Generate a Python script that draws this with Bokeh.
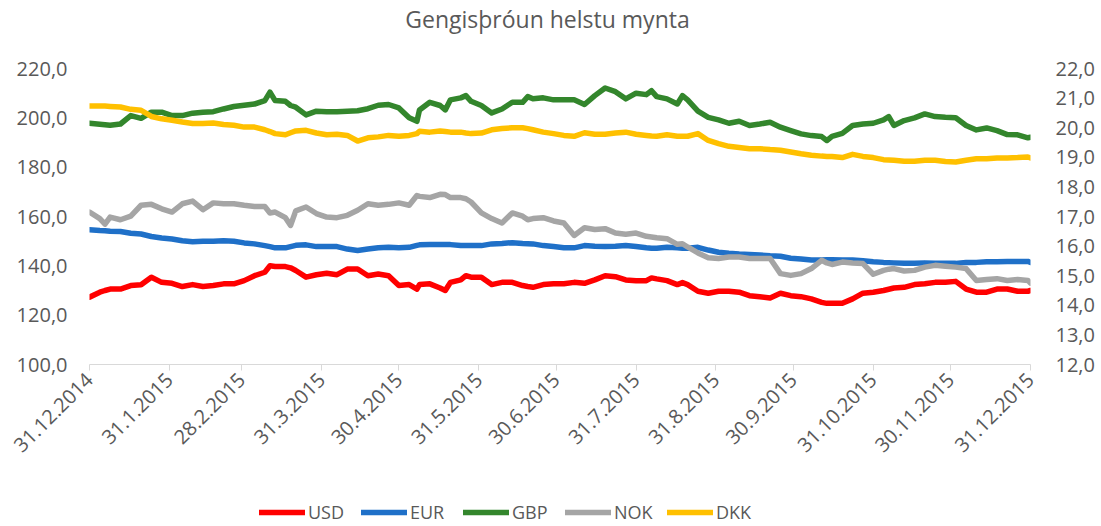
import pandas as pd
from bokeh.plotting import figure
from bokeh.layouts import column
from bokeh.models import (Range1d, LinearAxis, FixedTicker, Legend, LegendItem, Label)
from bokeh.embed import file_html
from bokeh.resources import INLINE

# ---------------- data ----------------
start_date = "2014-12-31"
day_offsets = [0, 4, 6, 8, 12, 16, 20, 24, 28, 32, 36, 40, 44, 48, 52, 56, 60, 64, 68, 70, 72, 76, 78, 80, 84, 88,
               92, 96, 100, 104, 108, 112, 116, 120, 124, 127, 128, 132, 136, 138, 140, 144, 146, 148, 152, 156, 160, 164, 168, 170, 172, 176, 180,
               184, 188, 192, 196, 200, 204, 208, 212, 216, 218, 220, 224, 228, 230, 232, 236, 240, 244, 248, 252, 256, 260, 264, 268, 272,
               276, 280, 284, 286, 288, 292, 296, 300, 304, 308, 310, 312, 316, 320, 324, 328, 332, 336, 340, 344, 348, 352, 356, 360, 364, 365]

usd = [127.3, 129.3, 130.0, 130.6, 130.6, 132.0, 132.3, 135.4, 133.3, 132.9, 131.6, 132.4, 131.6, 132.0, 132.7, 132.7, 134.0, 136.0, 137.4, 140.0, 139.7, 139.7, 139.2, 138.1, 135.4, 136.4,
       137.0, 136.4, 138.7, 138.7, 136.0, 136.7, 136.0, 132.0, 132.4, 130.6, 132.4, 132.7, 131.0, 130.0, 133.3, 134.3, 136.0, 135.4, 135.4, 132.4, 133.3, 133.3, 132.0, 131.6, 131.3, 132.4, 132.7,
       132.7, 133.3, 132.9, 134.3, 136.0, 135.6, 134.3, 134.0, 134.0, 135.1, 134.7, 134.0, 132.4, 133.2, 132.4, 129.7, 128.9, 129.7, 129.7, 129.3, 127.9, 127.5, 127.0, 128.9, 127.9,
       127.5, 126.6, 125.2, 124.8, 124.8, 124.8, 126.6, 128.9, 129.3, 130.0, 130.5, 131.0, 131.3, 132.4, 132.7, 133.3, 133.3, 133.7, 130.6, 129.3, 129.3, 130.6, 130.6, 129.7, 129.7, 130.0]

eur = [154.6, 154.3, 154.2, 154.0, 153.9, 153.2, 152.9, 151.9, 151.3, 150.9, 150.2, 149.8, 150.0, 150.0, 150.2, 150.0, 149.3, 148.9, 148.2, 147.8, 147.3, 147.3, 147.8, 148.3, 148.5, 147.8,
       147.8, 147.8, 146.8, 146.2, 146.8, 147.3, 147.5, 147.3, 147.5, 148.3, 148.5, 148.6, 148.6, 148.6, 148.6, 148.2, 148.2, 148.2, 148.2, 148.9, 149.1, 149.4, 149.1, 149.0, 148.9, 148.2, 147.8,
       147.3, 147.3, 148.2, 147.9, 147.8, 147.9, 148.2, 147.8, 147.3, 147.1, 147.1, 147.5, 147.3, 147.1, 147.1, 147.5, 146.4, 145.5, 145.1, 144.8, 144.6, 144.4, 144.1, 143.9, 143.1,
       142.8, 142.4, 142.4, 142.5, 142.5, 142.4, 142.4, 142.1, 141.7, 141.4, 141.3, 141.2, 141.0, 141.0, 141.2, 141.0, 141.0, 141.0, 141.4, 141.4, 141.7, 141.7, 141.8, 141.8, 141.8, 141.4]

gbp = [197.8, 197.4, 197.2, 197.0, 197.5, 200.9, 199.8, 202.3, 202.3, 200.9, 200.9, 201.9, 202.3, 202.5, 203.6, 204.6, 205.1, 205.6, 207.0, 210.4, 207.0, 206.7, 205.0, 204.3, 201.2, 202.7,
       202.5, 202.5, 202.7, 202.9, 203.7, 205.1, 205.4, 204.0, 200.0, 198.6, 203.2, 206.3, 205.0, 203.2, 207.3, 208.1, 209.0, 206.7, 205.0, 202.0, 203.6, 206.3, 206.3, 208.6, 207.7, 208.1, 207.3,
       207.3, 207.3, 205.4, 209.0, 212.1, 210.6, 207.7, 210.0, 209.4, 211.0, 208.6, 207.7, 205.6, 209.0, 207.3, 202.7, 200.2, 199.2, 197.8, 198.6, 196.9, 197.5, 198.2, 196.2, 194.8,
       193.5, 192.8, 192.4, 190.8, 192.5, 193.7, 196.9, 197.5, 197.8, 199.2, 200.5, 196.9, 198.9, 200.0, 201.6, 200.5, 200.2, 200.0, 196.9, 195.1, 195.9, 194.8, 193.2, 193.1, 191.9, 192.1]

nok = [17.15, 16.93, 16.74, 16.98, 16.89, 17.01, 17.38, 17.41, 17.26, 17.15, 17.43, 17.52, 17.23, 17.46, 17.43, 17.43, 17.38, 17.34, 17.34, 17.12, 17.15, 16.96, 16.70, 17.19, 17.32, 17.10,
       16.98, 16.96, 17.04, 17.21, 17.43, 17.38, 17.41, 17.46, 17.38, 17.71, 17.68, 17.64, 17.75, 17.74, 17.64, 17.64, 17.60, 17.49, 17.12, 16.93, 16.78, 17.12, 17.01, 16.89, 16.93, 16.96, 16.85,
       16.78, 16.36, 16.62, 16.56, 16.59, 16.44, 16.40, 16.44, 16.33, 16.31, 16.28, 16.25, 16.06, 16.08, 15.97, 15.77, 15.61, 15.58, 15.63, 15.63, 15.58, 15.58, 15.58, 15.07, 15.01,
       15.07, 15.24, 15.52, 15.43, 15.38, 15.46, 15.43, 15.41, 15.05, 15.18, 15.22, 15.24, 15.16, 15.18, 15.29, 15.35, 15.32, 15.29, 15.24, 14.84, 14.87, 14.90, 14.84, 14.87, 14.84, 14.75]

dkk = [20.73, 20.73, 20.73, 20.72, 20.70, 20.62, 20.59, 20.38, 20.30, 20.25, 20.19, 20.14, 20.14, 20.16, 20.11, 20.08, 20.02, 20.02, 19.93, 19.87, 19.80, 19.76, 19.83, 19.89, 19.91, 19.82,
       19.76, 19.78, 19.74, 19.55, 19.66, 19.69, 19.74, 19.71, 19.74, 19.80, 19.88, 19.85, 19.89, 19.87, 19.85, 19.85, 19.82, 19.80, 19.82, 19.93, 19.97, 20.00, 20.00, 19.97, 19.93, 19.85, 19.80,
       19.74, 19.71, 19.83, 19.78, 19.78, 19.82, 19.85, 19.78, 19.74, 19.72, 19.71, 19.76, 19.71, 19.71, 19.71, 19.80, 19.57, 19.46, 19.37, 19.33, 19.29, 19.29, 19.26, 19.24, 19.18,
       19.12, 19.07, 19.04, 19.03, 19.03, 18.99, 19.10, 19.03, 18.99, 18.92, 18.91, 18.90, 18.87, 18.87, 18.90, 18.90, 18.86, 18.84, 18.90, 18.95, 18.95, 18.98, 18.98, 18.99, 19.01, 18.98]

x_tick_labels = ["31.12.2014", "31.1.2015", "28.2.2015", "31.3.2015", "30.4.2015", "31.5.2015",
                 "30.6.2015", "31.7.2015", "31.8.2015", "30.9.2015", "31.10.2015", "30.11.2015", "31.12.2015"]
left_ticks = [100, 120, 140, 160, 180, 200, 220]
left_tick_labels = ["100,0", "120,0", "140,0", "160,0", "180,0", "200,0", "220,0"]
right_ticks = [12, 13, 14, 15, 16, 17, 18, 19, 20, 21, 22]
right_tick_labels = ["12,0", "13,0", "14,0", "15,0", "16,0", "17,0", "18,0", "19,0", "20,0", "21,0", "22,0"]

title_text = "Gengisþróun helstu mynta"
series_left = [("USD", usd, "#FF0000"), ("EUR", eur, "#1F70C8"), ("GBP", gbp, "#33862C")]
series_right = [("NOK", nok, "#A5A5A5"), ("DKK", dkk, "#FFC000")]

# ---------------- build ----------------
FONT = "Open Sans"
TXT = "#595959"
LW = 5.5
dates = pd.Timestamp(start_date) + pd.to_timedelta(day_offsets, unit="D")
tick_dates = pd.to_datetime(x_tick_labels, format="%d.%m.%Y")
tick_ms = [float(t.value // 10**6) for t in tick_dates]


def strip(height):
    f = figure(width=1101, height=height, title=None, output_backend="svg", toolbar_location=None,
               x_axis_location=None, y_axis_location=None,
               x_range=Range1d(dates[0], dates[-1]), y_range=Range1d(0, 1),
               min_border_left=89, min_border_right=71, min_border_top=0, min_border_bottom=0)
    f.outline_line_color = None
    f.xgrid.visible = False
    f.ygrid.visible = False
    return f


# title strip
top = strip(42)
top.add_layout(Label(x=458, y=24, x_units="screen", y_units="screen", text=title_text,
                     text_align="center", text_baseline="middle", text_font=FONT,
                     text_font_size="23px", text_color=TXT))

# main chart
p = figure(width=1101, height=448, title=None, x_axis_type="datetime",
           x_range=Range1d(dates[0], dates[-1]), y_range=Range1d(100, 220),
           output_backend="svg", toolbar_location=None,
           min_border_left=89, min_border_right=71, min_border_top=26, min_border_bottom=126)
p.extra_y_ranges = {"right": Range1d(12, 22)}
p.outline_line_color = None
p.xgrid.visible = False
p.ygrid.visible = False

xa = p.xaxis[0]
xa.ticker = FixedTicker(ticks=tick_ms)
xa.major_label_overrides = {ms: lab for ms, lab in zip(tick_ms, x_tick_labels)}
xa.major_label_orientation = 0.785398
xa.axis_line_color = "#D9D9D9"
xa.major_tick_line_color = "#D9D9D9"
xa.major_tick_out = 6
xa.major_tick_in = 0
xa.minor_tick_line_color = None
xa.major_label_text_font = FONT
xa.major_label_text_font_size = "20px"
xa.major_label_text_color = TXT
xa.major_label_standoff = 6

ya = p.yaxis[0]
ya.ticker = FixedTicker(ticks=left_ticks)
ya.major_label_overrides = {t: l for t, l in zip(left_ticks, left_tick_labels)}

ra = LinearAxis(y_range_name="right")
ra.ticker = FixedTicker(ticks=right_ticks)
ra.major_label_overrides = {t: l for t, l in zip(right_ticks, right_tick_labels)}
p.add_layout(ra, "right")

for ax, st in ((ya, 22), (ra, 25)):
    ax.axis_line_color = None
    ax.major_tick_line_color = None
    ax.minor_tick_line_color = None
    ax.major_tick_out = 0
    ax.major_tick_in = 0
    ax.major_label_standoff = st
    ax.major_label_text_font = FONT
    ax.major_label_text_font_size = "20px"
    ax.major_label_text_color = TXT

for name, vals, col in series_left:
    p.line(dates, vals, line_color=col, line_width=LW, line_join="round", line_cap="round")
for name, vals, col in series_right:
    p.line(dates, vals, line_color=col, line_width=LW, line_join="round", line_cap="round",
           y_range_name="right")

# legend strip underneath (the series' own keys; the lines themselves lie outside this strip's view)
lg = strip(36)
items = []
for name, vals, col in series_left + series_right:
    r = lg.line(dates, vals, line_color=col, line_width=LW, line_cap="round")
    items.append(LegendItem(label=name, renderers=[r]))
legend = Legend(items=items, orientation="horizontal", location=(170, 2),
                glyph_width=46, glyph_height=20, label_standoff=3, label_width=40, spacing=13,
                padding=0, margin=0, border_line_color=None, background_fill_alpha=0,
                label_text_font=FONT, label_text_font_size="18px", label_text_color=TXT)
lg.add_layout(legend, "center")

layout = column(top, p, lg, spacing=0)
open("out.html", "w").write(file_html(layout, INLINE))
